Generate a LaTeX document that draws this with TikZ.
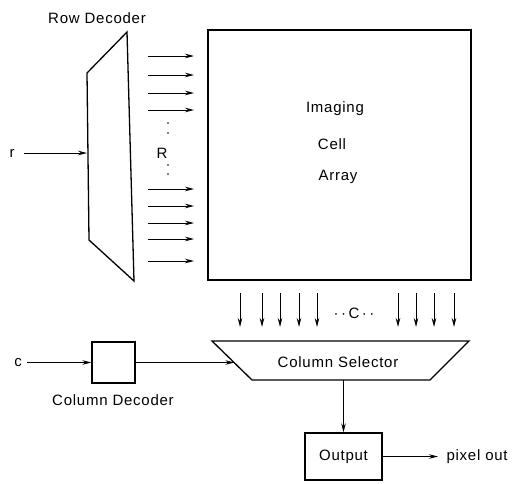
\documentclass[tikz,border=0pt]{standalone}
\usepackage{fontspec}
\setmainfont[LetterSpace=5]{Liberation Sans}
\usetikzlibrary{arrows.meta,calc}
\begin{document}
\begin{tikzpicture}[x=1pt,y=-1pt,
  every node/.style={font=\fontsize{15}{18}\selectfont},
  blk/.style={draw,line width=1.3pt,inner sep=0pt},
  sig/.style={line width=0.9pt,-{Stealth[length=9pt,width=4.5pt]}}]
\useasboundingbox (0,0) rectangle (513,483);
% cell array
\node[blk,minimum width=263pt,minimum height=250pt] (array) at (339.5,155) {};
\node (img) at (335,109) {Imaging};
\node (cell) at (332,144) {Cell};
\node (arr) at (338,177) {Array};
% row decoder
\coordinate (rd1) at (127,32);
\coordinate (rd2) at (87,73);
\coordinate (rd3) at (89,240);
\coordinate (rd4) at (134,281);
\draw[line width=1.3pt] (rd1) -- (rd2) -- (rd3) -- (rd4) -- cycle;
\node (rdl) at (97,18) {Row Decoder};
\node (r) at (12,153) {r};
\coordinate (rin) at (87,153);
\draw[sig,shorten <=6pt] (r) -- (rin);
\foreach \i/\y in {1/56,2/75,3/93,4/110,5/189,6/206,7/223,8/239,9/261}{
  \coordinate (ra\i) at (148,\y);
  \coordinate (rb\i) at (194,\y);
  \draw[sig] (ra\i) -- (rb\i);}
\node (R) at (162,153) {R};
\foreach \y in {123,133,165,174}
  \fill (168,\y) circle (0.8);
% column lines
\foreach \i/\x in {1/240,2/262,3/280,4/299,5/317,6/398,7/416,8/434,9/454}{
  \coordinate (ca\i) at (\x,293);
  \coordinate (cb\i) at (\x,327);
  \draw[sig] (ca\i) -- (cb\i);}
\node (C) at (354,313) {·\,·\,C\,·\,·};
% column selector
\coordinate (s1) at (212,341);
\coordinate (s2) at (469,341);
\coordinate (s3) at (430,380);
\coordinate (s4) at (252,380);
\draw[line width=1.3pt] (s1) -- (s2) -- (s3) -- (s4) -- cycle;
\node (sel) at (338,362) {Column Selector};
\coordinate (sin) at ($(s1)!0.56!(s4)$);
\coordinate (sb) at (343.5,380);
% column decoder
\node[blk,minimum width=43pt,minimum height=41pt] (cd) at (113.5,362.5) {};
\node (cdl) at (113,400) {Column Decoder};
\node (c) at (18,362.5) {c};
\draw[sig,shorten <=2pt] (c) -- (cd);
\draw[sig] (cd.east) -- (cd.east -| sin);
% output
\node[blk,minimum width=77pt,minimum height=47pt] (out) at (343.5,456.5) {Output};
\node[anchor=west] (pix) at (443,456.5) {pixel out};
\draw[sig] (sb) -- (out);
\draw[sig,shorten >=5pt] (out) -- (pix);
\end{tikzpicture}
\end{document}
